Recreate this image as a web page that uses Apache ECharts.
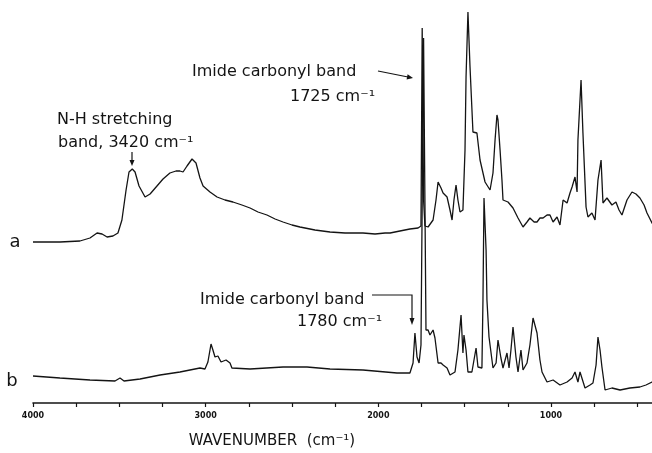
<!DOCTYPE html>
<html>
<head>
<meta charset="utf-8">
<script src="https://cdn.jsdelivr.net/npm/echarts@6/dist/echarts.min.js"></script>
<style>
  html, body { margin: 0; padding: 0; background: #fff; }
  #chart { width: 652px; height: 453px; }
</style>
</head>
<body>
<div id="chart"></div>
<script>
// ---- Data (wavenumber in cm^-1, absorbance in arbitrary units) ----
const wavenumberA = [4000,3844,3728,3670,3629,3600,3571,3537,3508,3485,3461,3444,3425,3409,3386,3351,3322,3282,3247,3207,3172,3149,3131,3108,3079,3056,3033,3015,2975,2934,2888,2842,2790,2743,2697,2645,2598,2552,2500,2454,2367,2280,2193,2089,2019,1961,1932,1875,1817,1770,1753,1746,1738,1730,1712,1683,1666,1654,1637,1625,1602,1585,1573,1562,1550,1539,1527,1510,1498,1492,1481,1469,1452,1429,1411,1382,1353,1336,1324,1313,1307,1295,1284,1278,1249,1220,1191,1162,1139,1122,1098,1081,1064,1046,1023,1006,988,965,948,930,907,890,878,861,849,844,826,815,797,786,763,745,728,710,699,676,647,624,606,589,560,531,508,485,461,444,415,400];
const traceA = [161,161,162,165,170,169,166,167,170,183,213,231,234,231,217,206,209,217,224,230,232,232,231,237,244,240,225,217,211,206,203,201,198,195,191,188,184,181,178,176,173,171,170,170,169,170,170,172,174,175,177,375,203,177,176,183,203,221,215,210,206,193,183,203,218,203,191,193,253,326,391,336,271,270,243,221,213,230,263,288,283,253,223,203,201,195,185,176,181,185,181,181,185,185,188,188,181,186,178,203,200,210,216,226,211,263,323,270,196,186,190,183,223,243,200,205,198,201,193,188,203,211,209,205,198,190,180,177];

const wavenumberB = [4000,3844,3670,3525,3496,3473,3380,3264,3149,3062,3033,3004,2987,2969,2958,2946,2929,2911,2900,2882,2871,2859,2848,2743,2552,2413,2280,2089,1892,1817,1799,1788,1776,1764,1753,1738,1724,1712,1701,1683,1672,1654,1637,1625,1602,1585,1556,1539,1521,1510,1504,1492,1481,1458,1434,1423,1400,1394,1388,1376,1371,1359,1336,1318,1307,1290,1278,1255,1243,1232,1220,1203,1191,1174,1162,1139,1122,1104,1081,1064,1052,1023,988,948,907,878,861,844,832,803,774,757,739,728,716,705,687,647,600,543,485,450,415,400];
const traceB = [27,25,23,22,25,22,24,28,31,34,35,34,41,59,53,46,47,41,40,43,44,40,35,34,36,36,34,33,30,30,40,70,46,40,58,365,73,73,68,73,65,40,40,38,35,28,31,53,88,50,68,53,31,31,55,36,35,103,205,153,103,66,35,40,63,45,35,50,35,53,76,46,31,53,33,40,58,85,70,43,31,21,23,18,21,25,31,21,31,15,18,20,38,66,53,36,13,15,13,15,16,18,21,22];

const tickLabels = [4000, 3000, 2000, 1000];
const seriesLabels = ['a', 'b'];

// ---- Chart ----
const chart = echarts.init(document.getElementById('chart'), null, { renderer: 'canvas' });
const zip = (xs, ys) => xs.map((x, i) => [x, ys[i]]);
const ink = '#141414';
const txtFont = '"DejaVu Sans", sans-serif';

const option = {
  backgroundColor: '#ffffff',
  animation: false,
  grid: { left: 33, top: 0, width: 647.5, height: 403, containLabel: false, outerBoundsMode: 'none' },
  xAxis: {
    type: 'value',
    inverse: true,
    min: 250,
    max: 4000,
    interval: 250,
    axisLine: { show: true, onZero: false, lineStyle: { color: ink, width: 1.6 } },
    axisTick: { show: true, length: 4, lineStyle: { color: ink, width: 1.2 } },
    axisLabel: {
      margin: 9,
      color: ink,
      fontSize: 8,
      fontWeight: 'bold',
      fontFamily: txtFont,
      showMinLabel: true,
      showMaxLabel: true,
      formatter: v => tickLabels.indexOf(v) >= 0 ? String(v) : ''
    },
    splitLine: { show: false }
  },
  yAxis: { type: 'value', min: 0, max: 403, show: false },
  series: [
    {
      name: seriesLabels[0], type: 'line', data: zip(wavenumberA, traceA),
      showSymbol: false, smooth: false,
      lineStyle: { color: ink, width: 1.3 }
    },
    {
      name: seriesLabels[1], type: 'line', data: zip(wavenumberB, traceB),
      showSymbol: false, smooth: false,
      lineStyle: { color: ink, width: 1.3 }
    }
  ],
  graphic: [
    // trace labels
    { type: 'text', style: { text: seriesLabels[0], x: 15, y: 242, fill: ink, font: '18px ' + txtFont, align: 'center', verticalAlign: 'middle' } },
    { type: 'text', style: { text: seriesLabels[1], x: 12, y: 381, fill: ink, font: '18px ' + txtFont, align: 'center', verticalAlign: 'middle' } },
    // N-H annotation
    { type: 'text', style: { text: 'N-H stretching', x: 57, y: 120, fill: ink, font: '16px ' + txtFont, align: 'left', verticalAlign: 'middle' } },
    { type: 'text', style: { text: 'band, 3420 cm⁻¹', x: 58, y: 143, fill: ink, font: '16px ' + txtFont, align: 'left', verticalAlign: 'middle' } },
    { type: 'line', shape: { x1: 132, y1: 152, x2: 132, y2: 161 }, style: { stroke: ink, lineWidth: 1.2 } },
    { type: 'polygon', shape: { points: [[129.5, 160], [134.5, 160], [132, 166]] }, style: { fill: ink } },
    // 1725 annotation
    { type: 'text', style: { text: 'Imide carbonyl band', x: 192, y: 72, fill: ink, font: '16px ' + txtFont, align: 'left', verticalAlign: 'middle' } },
    { type: 'text', style: { text: '1725 cm⁻¹', x: 290, y: 97, fill: ink, font: '16px ' + txtFont, align: 'left', verticalAlign: 'middle' } },
    { type: 'line', shape: { x1: 378, y1: 71, x2: 408, y2: 77 }, style: { stroke: ink, lineWidth: 1.2 } },
    { type: 'polygon', shape: { points: [[407.6, 74.2], [406.6, 79.4], [413, 78]] }, style: { fill: ink } },
    // 1780 annotation
    { type: 'text', style: { text: 'Imide carbonyl band', x: 200, y: 300, fill: ink, font: '16px ' + txtFont, align: 'left', verticalAlign: 'middle' } },
    { type: 'text', style: { text: '1780 cm⁻¹', x: 297, y: 322, fill: ink, font: '16px ' + txtFont, align: 'left', verticalAlign: 'middle' } },
    { type: 'polyline', shape: { points: [[372, 295], [412, 295], [412, 319]] }, style: { stroke: ink, lineWidth: 1.2, fill: null } },
    { type: 'polygon', shape: { points: [[409.5, 318], [414.5, 318], [412, 325]] }, style: { fill: ink } },
    // axis title
    { type: 'text', style: { text: 'WAVENUMBER  (cm⁻¹)', x: 272, y: 441, fill: ink, font: '15px ' + txtFont, align: 'center', verticalAlign: 'middle' } }
  ]
};
chart.setOption(option);
</script>
</body>
</html>
